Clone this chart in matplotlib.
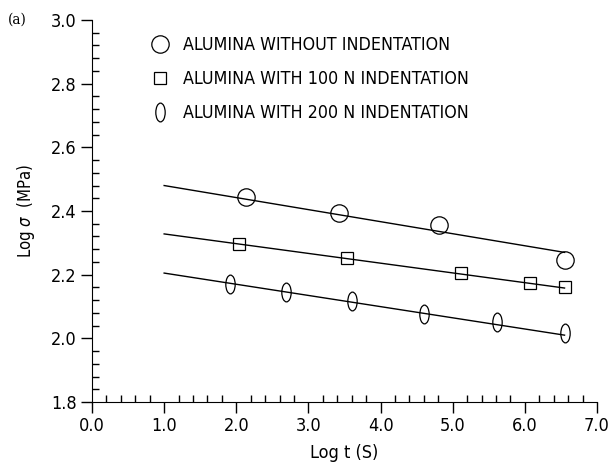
import matplotlib
matplotlib.use('Agg')
from matplotlib import pyplot as plt
from matplotlib.ticker import MultipleLocator, FormatStrFormatter
from matplotlib.markers import MarkerStyle
from matplotlib.transforms import Affine2D

plt.rcParams['font.family'] = ['DejaVu Sans']
plt.rcParams['font.stretch'] = 'condensed'

# log t (s) and log sigma (MPa)
x_none = [2.13, 3.43, 4.81, 6.55]
y_none = [2.444, 2.394, 2.356, 2.247]
x_100 = [2.04, 3.53, 5.12, 6.07, 6.55]
y_100 = [2.297, 2.253, 2.206, 2.175, 2.160]
x_200 = [1.91, 2.69, 3.60, 4.60, 5.61, 6.55]
y_200 = [2.172, 2.147, 2.116, 2.078, 2.050, 2.016]

# fitted lines (end points)
line_x = [1.0, 6.55]
line_none = [2.48, 2.27]
line_100 = [2.328, 2.158]
line_200 = [2.205, 2.010]

labels = ['ALUMINA WITHOUT INDENTATION',
          'ALUMINA WITH 100 N INDENTATION',
          'ALUMINA WITH 200 N INDENTATION']

fig = plt.figure(figsize=(6.11, 4.63), dpi=100)
ax = fig.add_axes([92 / 611, 1 - 402 / 463, 505 / 611, 382 / 463])

ax.plot(line_x, line_none, c='black', lw=1)
ax.plot(line_x, line_100, c='black', lw=1)
ax.plot(line_x, line_200, c='black', lw=1)

ell = MarkerStyle('o', transform=Affine2D().scale(0.5, 1.0))

h1, = ax.plot(x_none, y_none, ls='none', marker='o', ms=12.5, mfc='none', mec='black', mew=0.9)
h2, = ax.plot(x_100, y_100, ls='none', marker='s', ms=8.5, mfc='none', mec='black', mew=0.9)
h3, = ax.plot(x_200, y_200, ls='none', marker=ell, ms=13.5, mfc='none', mec='black', mew=0.9)

ax.set_xlim(0, 7.0)
ax.set_ylim(1.8, 3.0)
ax.xaxis.set_major_locator(MultipleLocator(1.0))
ax.xaxis.set_minor_locator(MultipleLocator(0.2))
ax.yaxis.set_major_locator(MultipleLocator(0.2))
ax.yaxis.set_minor_locator(MultipleLocator(0.04))
ax.xaxis.set_major_formatter(FormatStrFormatter('%.1f'))
ax.yaxis.set_major_formatter(FormatStrFormatter('%.1f'))
ax.tick_params(which='major', direction='out', length=8, width=1, labelsize=13, pad=3)
ax.tick_params(which='minor', direction='in', length=5, width=1)
ax.spines['top'].set_visible(False)
ax.spines['right'].set_visible(False)

ax.set_xlabel('Log t (S)', fontsize=13, labelpad=6)
ax.set_ylabel('Log $\\sigma$  (MPa)', fontsize=12, labelpad=10)

ax.legend([h1, h2, h3], labels, loc='upper left', bbox_to_anchor=(0.085, 1.0),
          frameon=False, fontsize=12.8, handlelength=1.0, handletextpad=0.8,
          labelspacing=0.9)

fig.text(8 / 611, 1 - 20 / 463, '(a)', fontsize=11, family='DejaVu Serif', va='center')

plt.savefig('out.png', dpi=100)
